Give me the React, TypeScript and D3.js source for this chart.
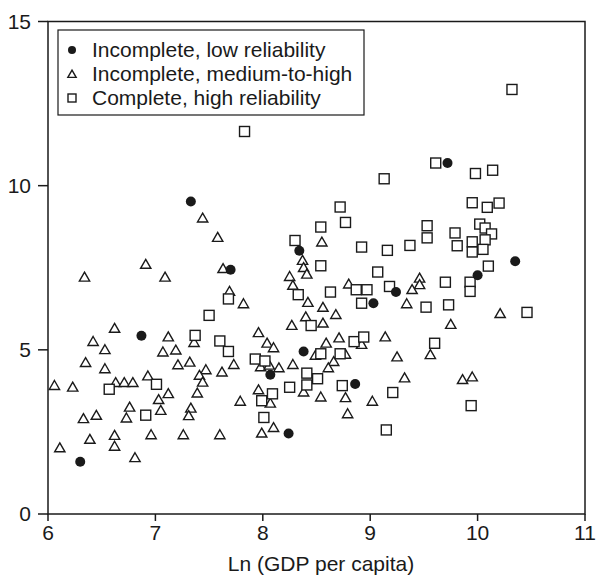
import React from "react";
import * as d3 from "d3";

// [ln GDP per capita, value]
const lowReliability = [
  [7.33, 9.52], [7.7, 7.44], [6.87, 5.43], [6.3, 1.59], [8.07, 4.24], [8.24, 2.45],
  [8.34, 8.02], [8.38, 4.95], [8.86, 3.96], [9.03, 6.42], [9.24, 6.76], [9.72, 10.69],
  [10.0, 7.27], [10.35, 7.7],
];

const mediumHigh = [
  [7.44, 9.03], [7.58, 8.44], [6.91, 7.62], [6.34, 7.23], [7.09, 7.23], [7.63, 7.49],
  [7.69, 6.8], [7.82, 6.42], [6.62, 5.67], [6.42, 5.27], [7.12, 5.41], [7.36, 5.24],
  [6.53, 5.02], [7.07, 4.95], [7.19, 5.01], [6.35, 4.63], [6.53, 4.44], [7.21, 4.56],
  [7.32, 4.64], [7.47, 4.41], [7.62, 4.34], [7.41, 4.24], [6.93, 4.22], [6.06, 3.93],
  [6.23, 3.88], [6.63, 4.02], [6.71, 4.02], [6.79, 4.02], [7.44, 4.03], [7.12, 3.68],
  [7.39, 3.7], [7.03, 3.5], [6.76, 3.27], [7.05, 3.17], [7.33, 3.24], [6.73, 2.94],
  [7.31, 3.01], [6.33, 2.92], [6.45, 3.02], [6.39, 2.29], [6.62, 2.41], [6.96, 2.43],
  [7.26, 2.43], [7.6, 2.43], [6.11, 2.03], [6.62, 2.08], [6.81, 1.73], [7.73, 4.57],
  [7.98, 4.5], [8.06, 4.55], [8.15, 4.47], [8.28, 4.57], [7.96, 3.8], [8.07, 3.39],
  [7.79, 3.45], [7.99, 2.48], [8.1, 2.65], [8.04, 5.22], [8.1, 5.08], [7.96, 5.54],
  [8.27, 5.76], [8.25, 7.25], [8.28, 6.98], [8.37, 7.74], [8.38, 7.52], [8.41, 7.32],
  [8.55, 8.3], [8.42, 6.46], [8.56, 6.31], [8.68, 6.09], [8.4, 6.02], [8.56, 5.83],
  [8.8, 7.02], [8.59, 5.22], [8.71, 5.38], [8.92, 5.18], [9.14, 5.41], [8.49, 4.85],
  [8.77, 4.88], [8.66, 4.66], [8.61, 4.47], [9.25, 4.8], [8.38, 3.73], [8.54, 3.58],
  [8.77, 3.56], [9.02, 3.45], [8.79, 3.07], [9.32, 4.16], [9.56, 4.87], [9.86, 4.11],
  [9.95, 4.19], [9.46, 7.2], [9.46, 7.0], [9.39, 6.85], [9.34, 6.42], [9.75, 5.79],
  [10.21, 6.12],
];

const complete = [
  [7.83, 11.65], [10.32, 12.93], [7.68, 6.55], [7.5, 6.05], [7.37, 5.44], [7.6, 5.27],
  [7.68, 4.95], [6.57, 3.8], [7.01, 3.95], [6.91, 3.01], [7.93, 4.72], [8.02, 4.66],
  [8.25, 3.86], [7.99, 3.45], [8.09, 3.66], [8.01, 2.94], [8.3, 8.33], [8.33, 6.68],
  [8.41, 4.29], [8.51, 4.12], [8.41, 3.93], [8.54, 4.88], [8.72, 4.88], [8.74, 3.91],
  [8.85, 5.25], [8.94, 5.39], [9.21, 3.7], [9.15, 2.56], [9.6, 5.2], [9.94, 3.3],
  [8.72, 9.35], [8.77, 8.88], [8.54, 8.74], [9.13, 10.21], [8.92, 8.13], [9.16, 8.03],
  [9.37, 8.18], [9.53, 8.78], [9.53, 8.41], [9.79, 8.56], [9.81, 8.17], [9.95, 9.48],
  [10.09, 9.34], [10.2, 9.47], [10.02, 8.83], [10.07, 8.71], [10.13, 8.53], [10.07, 8.35],
  [9.95, 8.29], [9.95, 7.98], [10.05, 8.06], [10.1, 7.55], [9.93, 7.06], [9.93, 6.78],
  [9.7, 7.06], [9.52, 6.3], [9.73, 6.37], [10.46, 6.14], [9.61, 10.69], [9.98, 10.37],
  [10.14, 10.47], [9.07, 7.37], [8.54, 7.56], [9.18, 6.93], [8.87, 6.83], [8.97, 6.83],
  [8.63, 6.76], [8.92, 6.42], [8.45, 5.74],
];

const legendLabels = [
  "Incomplete, low reliability",
  "Incomplete, medium-to-high",
  "Complete, high reliability",
];
const xTicks = [6, 7, 8, 9, 10, 11];
const yTicks = [0, 5, 10, 15];
const xTitle = "Ln (GDP per capita)";

const width = 598;
const height = 576;
const left = 48;
const right = 585;
const top = 21.5;
const bottom = 514;
const ink = "#1a1a1a";
const font = "'Liberation Sans', Arial, Helvetica, sans-serif";
const fs = 21;

const x = d3.scaleLinear().domain([6, 11]).range([left, right]);
const y = d3.scaleLinear().domain([0, 15]).range([bottom, top]);

const triangle = d3.symbol(d3.symbolTriangle, 46)();
const smallTriangle = d3.symbol(d3.symbolTriangle, 30)();

function Tri({ cx, cy, small }) {
  return (
    <path
      d={small ? smallTriangle : triangle}
      transform={`translate(${cx},${cy + (small ? 1 : 1.5)})`}
      fill="white"
      stroke={ink}
      strokeWidth={1.4}
    />
  );
}

function Sq({ cx, cy, s }) {
  return (
    <rect
      x={cx - s / 2}
      y={cy - s / 2}
      width={s}
      height={s}
      fill="white"
      stroke={ink}
      strokeWidth={1.4}
    />
  );
}

export default function App() {
  return (
    <svg
      width={width}
      height={height}
      style={{ position: "absolute", left: 0, top: 0, background: "white" }}
      fontFamily={font}
    >
      <rect width={width} height={height} fill="white" />

      {/* points */}
      {mediumHigh.map((d, i) => (
        <Tri key={`t${i}`} cx={x(d[0])} cy={y(d[1])} />
      ))}
      {complete.map((d, i) => (
        <Sq key={`s${i}`} cx={x(d[0])} cy={y(d[1])} s={10} />
      ))}
      {lowReliability.map((d, i) => (
        <circle key={`c${i}`} cx={x(d[0])} cy={y(d[1])} r={5} fill={ink} />
      ))}

      {/* frame */}
      <rect
        x={left}
        y={top}
        width={right - left}
        height={bottom - top}
        fill="none"
        stroke={ink}
        strokeWidth={1.5}
      />

      {/* y axis */}
      {yTicks.map((t) => (
        <g key={`y${t}`}>
          <line x1={left - 10} x2={left} y1={y(t)} y2={y(t)} stroke={ink} strokeWidth={1.5} />
          <text x={31} y={y(t)} dy="0.35em" textAnchor="end" fontSize={fs} fill={ink}>
            {t}
          </text>
        </g>
      ))}

      {/* x axis */}
      {xTicks.map((t) => (
        <g key={`x${t}`}>
          <line x1={x(t)} x2={x(t)} y1={bottom} y2={bottom + 7} stroke={ink} strokeWidth={1.5} />
          <text x={x(t)} y={540} textAnchor="middle" fontSize={fs} fill={ink}>
            {t}
          </text>
        </g>
      ))}
      <text x={321} y={571} textAnchor="middle" fontSize={fs} fill={ink}>
        {xTitle}
      </text>

      {/* legend */}
      <rect x={58} y={30} width={306} height={85} fill="white" stroke={ink} strokeWidth={1.2} />
      <circle cx={72} cy={50} r={4} fill={ink} />
      <Tri cx={72} cy={74} small />
      <Sq cx={72} cy={98} s={8} />
      {legendLabels.map((l, i) => (
        <text key={l} x={92} y={56.5 + i * 24} fontSize={fs} fill={ink}>
          {l}
        </text>
      ))}
    </svg>
  );
}
